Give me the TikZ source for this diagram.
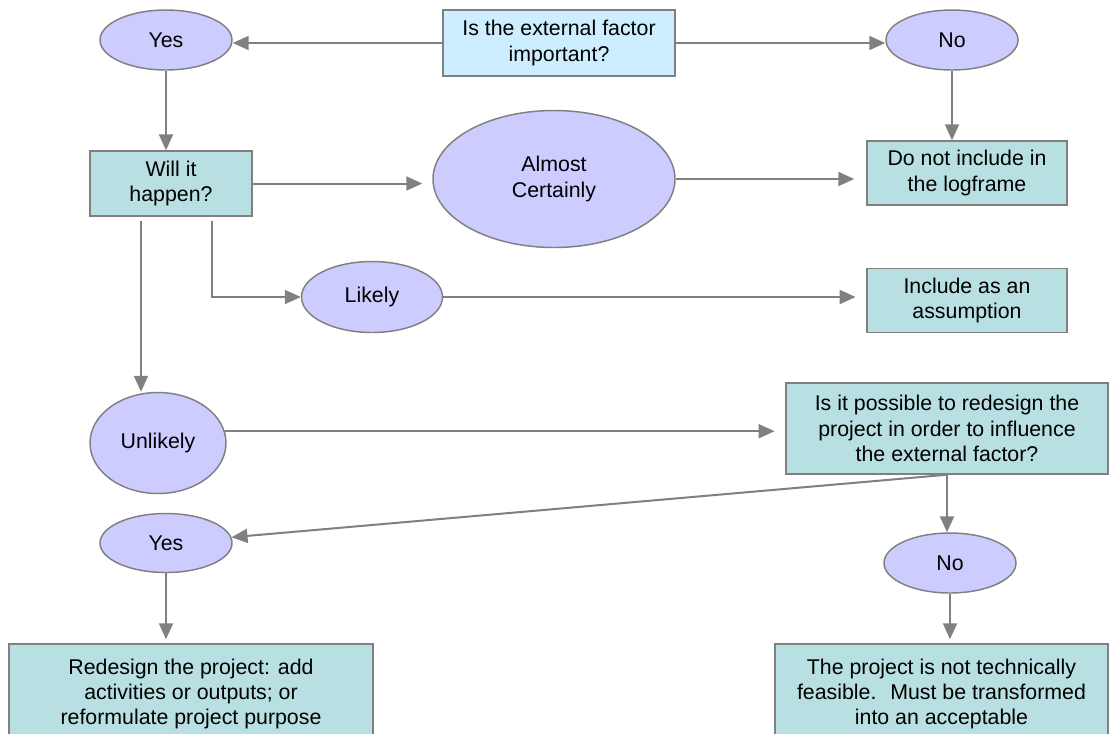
\documentclass[tikz,border=0pt]{standalone}
\usepackage{fontspec}
\setmainfont{Liberation Sans}
\usetikzlibrary{shapes.geometric, arrows.meta}
\definecolor{answerfill}{HTML}{CCCCFF}
\definecolor{stepfill}{HTML}{B8E0E2}
\definecolor{startfill}{HTML}{CCEEFF}
\definecolor{linegray}{HTML}{808080}

\begin{document}
\begin{tikzpicture}[
  x=0.75pt, y=-0.75pt,
  font=\fontsize{16}{19}\selectfont,
  answer/.style={draw=linegray, fill=answerfill, ellipse, inner sep=0pt, align=center, line width=1.1pt},
  stepbox/.style={draw=linegray, fill=stepfill, rectangle, inner sep=0pt, align=center, line width=1.1pt},
  startbox/.style={stepbox, fill=startfill},
  flow/.style={->, draw=linegray, line width=1.5pt},
  >={Triangle[length=12pt, width=10.5pt]}
]
\path[use as bounding box, clip] (0,0) rectangle (1110,733);

% Question and first answers
\node[startbox, minimum width=174pt, minimum height=49.5pt] (important) at (559,43) {Is the external factor\\important?};
\node[answer, minimum width=99pt, minimum height=45pt] (yes) at (166,40) {Yes};
\node[answer, minimum width=99pt, minimum height=45pt] (no) at (952,40) {No};
\node[stepbox, minimum width=150pt, minimum height=48pt] (exclude) at (967,173) {Do not include in\\the logframe};

% Will it happen
\node[stepbox, minimum width=121.5pt, minimum height=48.75pt] (happen) at (171,183.5) {Will it\\happen?};
\node[answer, minimum width=181.5pt, minimum height=102.75pt] (certain) at (554,179) {Almost\\Certainly};
\node[answer, minimum width=105.75pt, minimum height=53.25pt] (likely) at (372,297) {Likely};
\node[stepbox, minimum width=150pt, minimum height=48pt] (assumption) at (967,300.5) {Include as an\\assumption};
\node[answer, minimum width=102pt, minimum height=75.75pt] (unlikely) at (158,443) {Unlikely};
\coordinate (willleft) at (141,221);
\coordinate (willright) at (212,221);

% Redesign
\node[stepbox, minimum width=241.5pt, minimum height=68.25pt] (influence) at (947,428.5) {Is it possible to redesign the\\project in order to influence\\the external factor?};
\node[answer, minimum width=99pt, minimum height=44.25pt] (yes2) at (166,543) {Yes};
\node[answer, minimum width=99pt, minimum height=45pt] (no2) at (950,563) {No};
\node[stepbox, minimum width=273pt, minimum height=75pt] (change) at (191,694) {Redesign the project: add\\activities or outputs; or\\reformulate project purpose};
\node[stepbox, minimum width=249.75pt, minimum height=75pt] (infeasible) at (941.5,694) {The project is not technically\\feasible.~ Must be transformed\\into an acceptable};

% Connections
\draw[flow] (important.west) -- (important.west -| yes.east);
\draw[flow] (important.east) -- (important.east -| no.west);
\draw[flow] (yes) -- (yes |- happen.north);
\draw[flow] (no) -- (no |- exclude.north);

\draw[flow, shorten >=7.5pt] (happen.east) -- (happen.east -| certain.west);
\draw[flow, shorten >=9pt] (certain.east) -- (certain.east -| exclude.west);
\draw[flow] (willright) |- (likely);
\draw[flow, shorten >=8pt] (likely.east) -- (likely.east -| assumption.west);
\draw[flow] (willleft) -- (willleft |- unlikely.north);
\draw[flow, shorten >=8pt] (unlikely.10) -- (unlikely.10 -| influence.west);

\draw[flow] (influence.south) -- (yes2);
\draw[flow] (influence.south) -- (influence.south |- no2.north);
\draw[flow, shorten >=3pt] (yes2) -- (yes2 |- change.north);
\draw[flow, shorten >=3pt] (no2) -- (no2 |- infeasible.north);

\end{tikzpicture}
\end{document}
